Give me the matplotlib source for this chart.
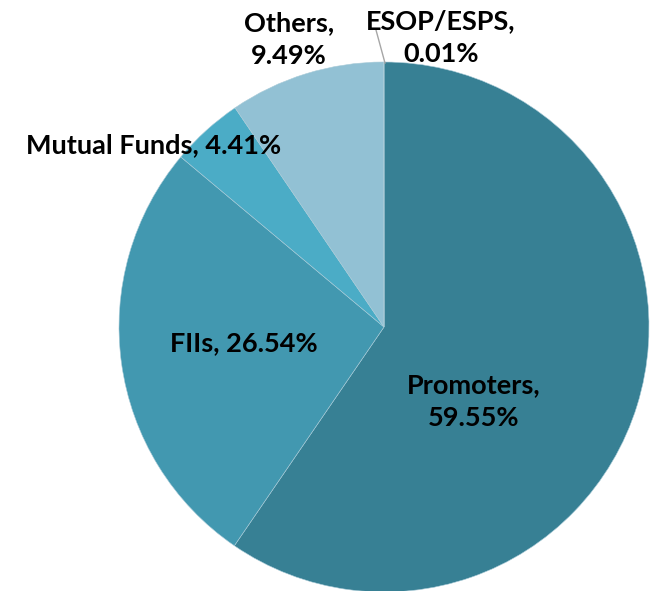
import numpy as np
import matplotlib.pyplot as plt

# shareholding pattern
labels = ["Promoters", "FIIs", "Mutual Funds", "Others", "ESOP/ESPS"]
shares = [59.55, 26.54, 4.41, 9.49, 0.01]
colors = ["#378094", "#4298b0", "#4bacc6", "#92c1d4", "#c5dde8"]

# label text layout (pixel coords from top-left)
label_text = ["Promoters,\n59.55%", "FIIs, 26.54%", "Mutual Funds, 4.41%",
              "Others,\n9.49%", "ESOP/ESPS,\n0.01%"]
label_pos = [(474, 402), (244, 343), (154, 145), (289, 40), (441, 38)]

W, H = 654, 591
fig = plt.figure(figsize=(W / 100, H / 100), dpi=100)
ax = fig.add_axes([0, 0, 1, 1])

cx, cy, r = 384, H - 327, 265
wedges, _ = ax.pie(shares, colors=colors, startangle=90, counterclock=False,
                   center=(cx, cy), radius=r, frame=True,
                   wedgeprops=dict(edgecolor='#a9cbd8', linewidth=0.4))
ax.set_xlim(0, W)
ax.set_ylim(0, H)
ax.set_aspect('equal')
ax.axis('off')

for txt, (x, y) in zip(label_text, label_pos):
    ax.text(x, H - y, txt, ha='center', va='center', fontsize=19.5,
            fontweight='bold', family=['Lato', 'DejaVu Sans'],
            linespacing=1.45, color='black')

# leader line for the tiny ESOP slice
ax.plot([385, 376], [H - 63, H - 30], color='#a6a6a6', lw=1)

fig.savefig("out.png", dpi=100)
